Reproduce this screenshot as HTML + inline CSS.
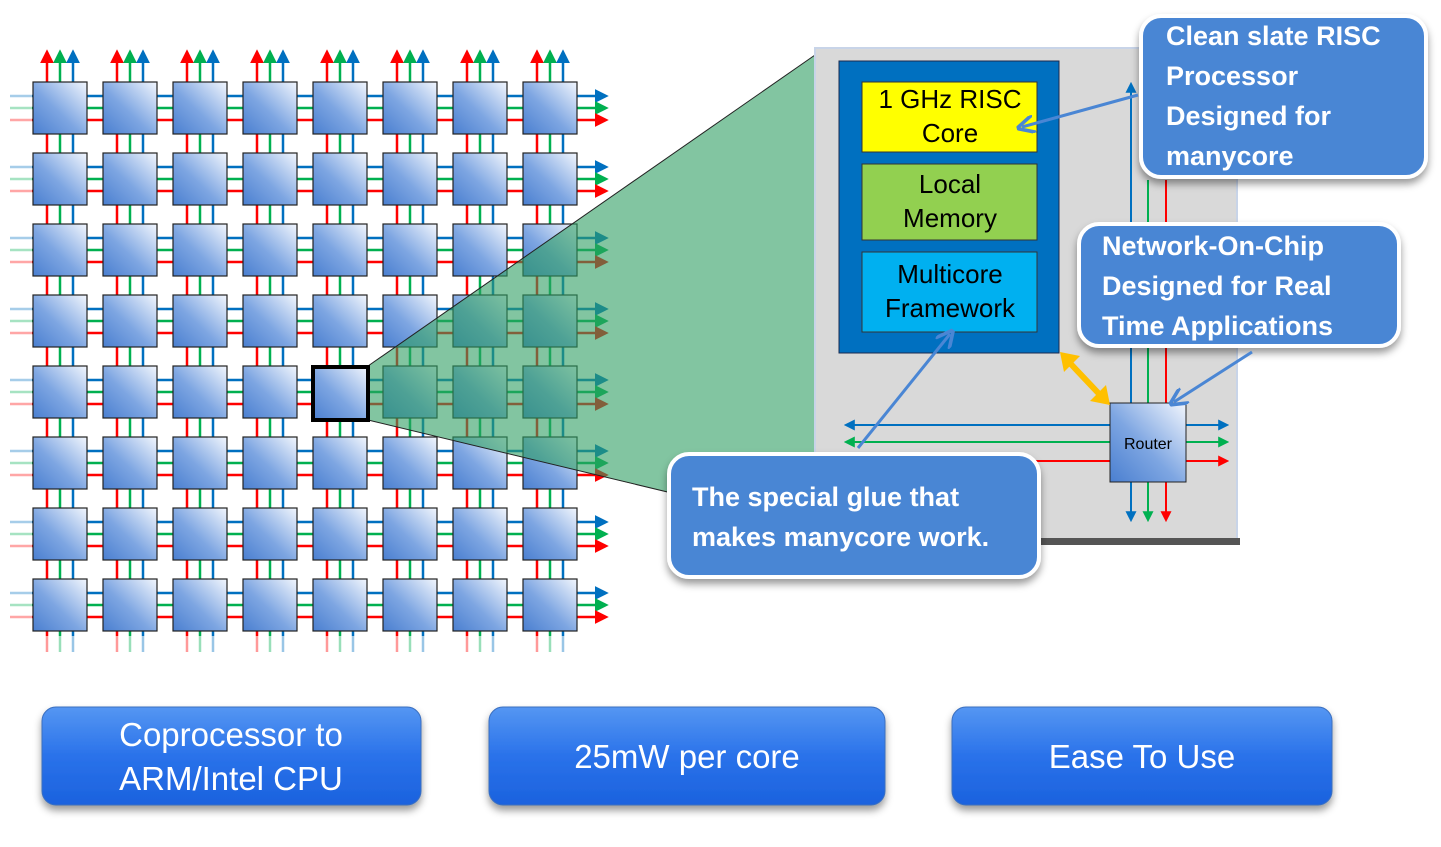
<!DOCTYPE html>
<html><head><meta charset="utf-8"><style>
html,body{margin:0;padding:0;background:#fff;width:1441px;height:847px;overflow:hidden}
svg{display:block}
.ct{font-family:"Liberation Sans",sans-serif;font-weight:bold;fill:#fff;font-size:27px}
.bt{font-family:"Liberation Sans",sans-serif;fill:#fff;font-size:33px}
.bx{font-family:"Liberation Sans",sans-serif;fill:#000;font-size:26px}
</style></head><body>
<svg id="s" width="1441" height="847" viewBox="0 0 1441 847" xmlns="http://www.w3.org/2000/svg">
<defs>
<linearGradient id="tg" x1="1" y1="0" x2="0" y2="1">
<stop offset="0" stop-color="#f2f6fd"/><stop offset="0.55" stop-color="#7ea6e2"/><stop offset="1" stop-color="#4a7fd0"/></linearGradient>
<linearGradient id="bg" x1="0" y1="0" x2="0" y2="1">
<stop offset="0" stop-color="#5596f2"/><stop offset="0.5" stop-color="#2a72ea"/><stop offset="1" stop-color="#1b62de"/></linearGradient>
<filter id="sh" x="-10%" y="-10%" width="120%" height="140%"><feDropShadow dx="0" dy="5" stdDeviation="4" flood-color="#000" flood-opacity="0.4"/></filter>
<marker id="ab" viewBox="0 0 10 10" refX="8" refY="5" markerWidth="5.5" markerHeight="5.5" orient="auto-start-reverse"><path d="M0,0L10,5L0,10z" fill="#0070c0"/></marker>
<marker id="ag" viewBox="0 0 10 10" refX="8" refY="5" markerWidth="5.5" markerHeight="5.5" orient="auto-start-reverse"><path d="M0,0L10,5L0,10z" fill="#00b050"/></marker>
<marker id="ar" viewBox="0 0 10 10" refX="8" refY="5" markerWidth="5.5" markerHeight="5.5" orient="auto-start-reverse"><path d="M0,0L10,5L0,10z" fill="#ff0000"/></marker>
<marker id="ao" viewBox="0 0 10 10" refX="7" refY="5" markerWidth="6" markerHeight="6" orient="auto"><path d="M0,0L10,5L0,10" fill="none" stroke="#4a86d4" stroke-width="2"/></marker>
</defs>
<g id="grid"></g>
<polygon points="368,366 815,55 815,528 368,420" fill="#2e9e62" fill-opacity="0.6"/>
<line x1="368" y1="366" x2="815" y2="55" stroke="#222" stroke-width="1"/>
<line x1="368" y1="420" x2="680" y2="495" stroke="#222" stroke-width="1"/>
<rect x="313" y="367" width="55" height="53" fill="url(#tg)" stroke="#000" stroke-width="4"/>
<rect x="815" y="48" width="422" height="494" fill="#d9d9d9" stroke="#c8d4e8" stroke-width="2"/>
<rect x="1040" y="538" width="200" height="7" fill="#555"/>
<rect x="839" y="61" width="220" height="292" fill="#0070c0" stroke="#1a2a50" stroke-width="1"/>
<rect x="862" y="82" width="175" height="70" fill="#ffff00" stroke="#333" stroke-width="1"/>
<rect x="862" y="164" width="175" height="76" fill="#92d050" stroke="#333" stroke-width="1"/>
<rect x="862" y="252" width="175" height="80" fill="#00b0f0" stroke="#333" stroke-width="1"/>
<text class="bx" x="950" y="108" text-anchor="middle">1 GHz RISC</text>
<text class="bx" x="950" y="142" text-anchor="middle">Core</text>
<text class="bx" x="950" y="193" text-anchor="middle">Local</text>
<text class="bx" x="950" y="227" text-anchor="middle">Memory</text>
<text class="bx" x="950" y="283" text-anchor="middle">Multicore</text>
<text class="bx" x="950" y="317" text-anchor="middle">Framework</text>
<line x1="1131" y1="520" x2="1131" y2="84" stroke="#0070c0" stroke-width="2" marker-start="url(#ab)" marker-end="url(#ab)"/>
<line x1="1148" y1="520" x2="1148" y2="180" stroke="#00b050" stroke-width="2" marker-start="url(#ag)"/>
<line x1="1166" y1="520" x2="1166" y2="180" stroke="#ff0000" stroke-width="2" marker-start="url(#ar)"/>
<line x1="846" y1="425" x2="1227" y2="425" stroke="#0070c0" stroke-width="2" marker-start="url(#ab)" marker-end="url(#ab)"/>
<line x1="846" y1="442" x2="1227" y2="442" stroke="#00b050" stroke-width="2" marker-start="url(#ag)" marker-end="url(#ag)"/>
<line x1="1030" y1="461" x2="1227" y2="461" stroke="#ff0000" stroke-width="2" marker-end="url(#ar)"/>
<rect x="1110" y="403" width="76" height="79" fill="url(#tg)" stroke="#222" stroke-width="1"/>
<text x="1148" y="449" text-anchor="middle" font-family="Liberation Sans,sans-serif" font-size="16" fill="#000">Router</text>
<line x1="1068" y1="361" x2="1102" y2="397" stroke="#ffc000" stroke-width="6"/>
<polygon points="1060,352 1080,356 1064,372" fill="#ffc000"/>
<polygon points="1110,405 1090,401 1106,385" fill="#ffc000"/>
<rect x="1141" y="16" width="285" height="161" rx="20" fill="#4a86d4" stroke="#fff" stroke-width="4" filter="url(#sh)"/>
<text class="ct" x="1166" y="45">Clean slate RISC</text>
<text class="ct" x="1166" y="85">Processor</text>
<text class="ct" x="1166" y="125">Designed for</text>
<text class="ct" x="1166" y="165">manycore</text>
<rect x="1079" y="224" width="320" height="122" rx="20" fill="#4a86d4" stroke="#fff" stroke-width="4" filter="url(#sh)"/>
<text class="ct" x="1102" y="255">Network-On-Chip</text>
<text class="ct" x="1102" y="295">Designed for Real</text>
<text class="ct" x="1102" y="335">Time Applications</text>
<rect x="669" y="454" width="370" height="123" rx="20" fill="#4a86d4" stroke="#fff" stroke-width="4" filter="url(#sh)"/>
<text class="ct" x="692" y="506">The special glue that</text>
<text class="ct" x="692" y="546">makes manycore work.</text>
<line x1="1138" y1="95" x2="1022" y2="127" stroke="#4a86d4" stroke-width="3" marker-end="url(#ao)"/>
<line x1="1252" y1="352" x2="1174" y2="402" stroke="#4a86d4" stroke-width="3" marker-end="url(#ao)"/>
<line x1="858" y1="448" x2="950" y2="334" stroke="#4a86d4" stroke-width="3" marker-end="url(#ao)"/>
<rect x="42" y="707" width="379" height="98" rx="14" fill="url(#bg)" stroke="#3a6fc0" stroke-width="1" filter="url(#sh)"/>
<text class="bt" x="231" y="746" text-anchor="middle">Coprocessor to</text>
<text class="bt" x="231" y="790" text-anchor="middle">ARM/Intel CPU</text>
<rect x="489" y="707" width="396" height="98" rx="14" fill="url(#bg)" stroke="#3a6fc0" stroke-width="1" filter="url(#sh)"/>
<text class="bt" x="687" y="768" text-anchor="middle">25mW per core</text>
<rect x="952" y="707" width="380" height="98" rx="14" fill="url(#bg)" stroke="#3a6fc0" stroke-width="1" filter="url(#sh)"/>
<text class="bt" x="1142" y="768" text-anchor="middle">Ease To Use</text>
</svg>
<script>
(function(){
var g=document.getElementById('grid'),h='';
var cols=['#ff0000','#00b050','#0070c0'];
var mk=['ar','ag','ab'];
for(var c=0;c<8;c++){var x0=33+70*c;
 for(var k=0;k<3;k++){var x=x0+14+13*k;
  h+='<line x1="'+x+'" y1="652" x2="'+x+'" y2="52" stroke="'+cols[k]+'" stroke-width="2.5" marker-end="url(#'+mk[k]+')"/>';
  h+='<line x1="'+x+'" y1="636" x2="'+x+'" y2="655" stroke="#fff" stroke-opacity="0.6" stroke-width="3"/>';}}
var hc=['#0070c0','#00b050','#ff0000'],hm=['ab','ag','ar'];
for(var r=0;r<8;r++){var y0=82+71*r;
 for(var k=0;k<3;k++){var y=y0+14+12*k;
  h+='<line x1="10" y1="'+y+'" x2="606" y2="'+y+'" stroke="'+hc[k]+'" stroke-width="2.5" marker-end="url(#'+hm[k]+')"/>';
  h+='<line x1="6" y1="'+y+'" x2="32" y2="'+y+'" stroke="#fff" stroke-opacity="0.65" stroke-width="4"/>';}}
for(var r=0;r<8;r++)for(var c=0;c<8;c++){
 h+='<rect x="'+(33+70*c)+'" y="'+(82+71*r)+'" width="54" height="52" fill="url(#tg)" stroke="#222" stroke-width="1.2"/>';}
g.innerHTML=h;
})();
</script>
</body></html>
